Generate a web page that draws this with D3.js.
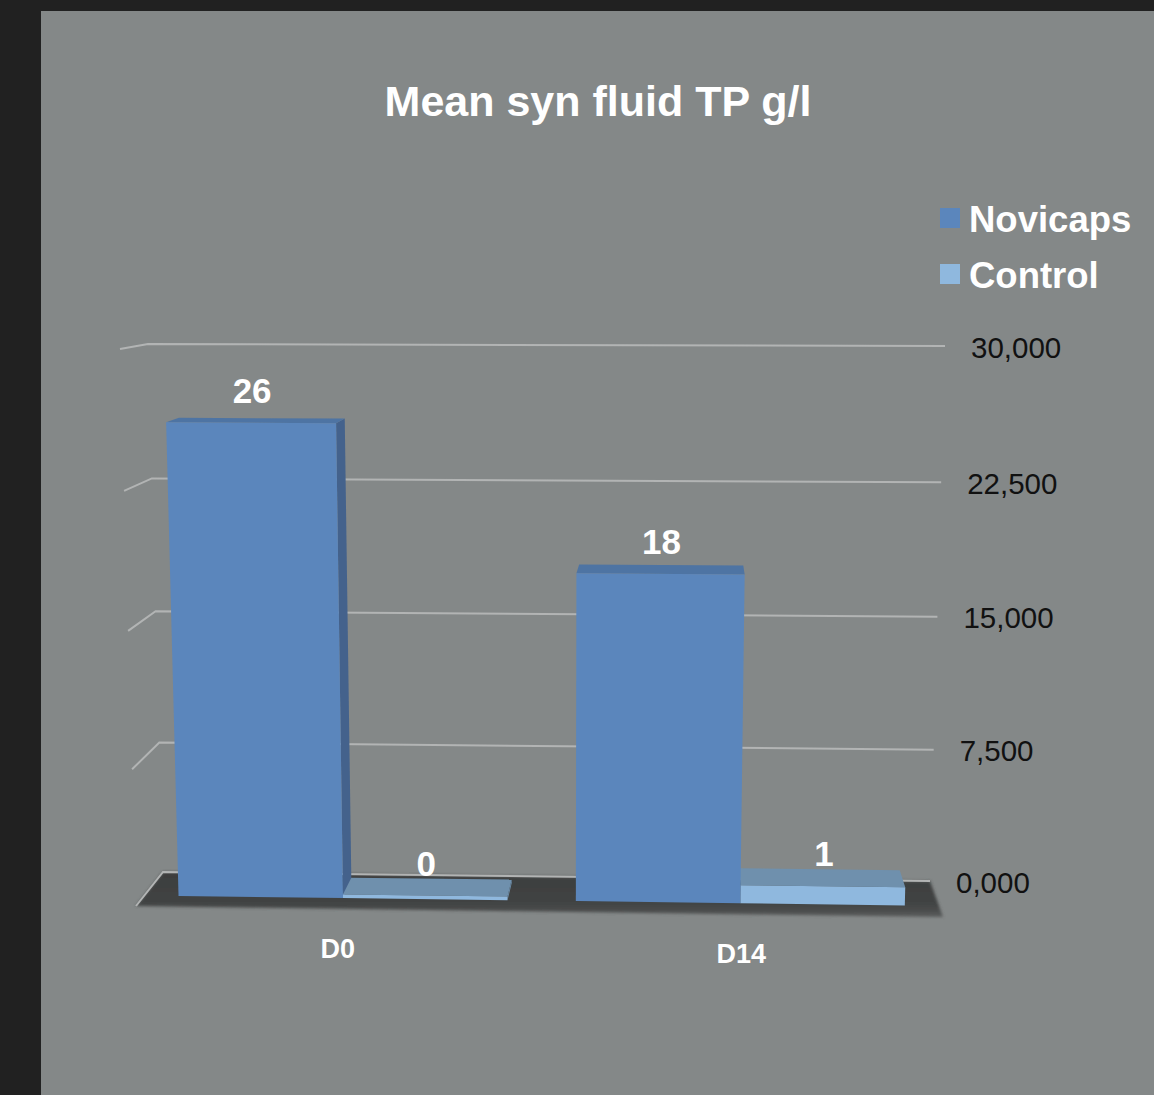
<!DOCTYPE html>
<html>
<head>
<meta charset="utf-8">
<script src="https://cdn.jsdelivr.net/npm/d3@7"></script>
<style>
  html, body { margin: 0; padding: 0; background: #212121; }
  svg { display: block; }
</style>
</head>
<body>
<script>
// ---- data ----
const categories = ["D0", "D14"];
const seriesNames = ["Novicaps", "Control"];
const novicapsValues = [26, 18];
const controlValues = [0.2, 1];
const tickValues = [0, 7.5, 15, 22.5, 30];
const chartTitle = "Mean syn fluid TP g/l";

// ---- styles ----
const W = 1154, H = 1095;
const FONT = "'Liberation Sans', Arial, Helvetica, sans-serif";
const colors = {
  Novicaps: { front: "#5b86bc", side: "#44628c", top: "#4e74a3" },
  Control:  { front: "#8fb8de", side: "#6d8eab", top: "#6f90ad" }
};

const svg = d3.select("body").append("svg")
  .attr("width", W).attr("height", H);

svg.append("rect").attr("width", W).attr("height", H).attr("fill", "#212121");
svg.append("rect").attr("x", 41).attr("y", 11)
  .attr("width", W - 41).attr("height", H - 11).attr("fill", "#848888");

const defs = svg.append("defs");
const floorGrad = defs.append("linearGradient").attr("id", "floorGrad")
  .attr("x1", 0).attr("y1", 0).attr("x2", 0).attr("y2", 1);
floorGrad.append("stop").attr("offset", "0%").attr("stop-color", "#3b3d3d");
floorGrad.append("stop").attr("offset", "75%").attr("stop-color", "#424444");
floorGrad.append("stop").attr("offset", "100%").attr("stop-color", "#5a5c5c");
defs.append("filter").attr("id", "soft")
  .attr("x", "-5%").attr("y", "-30%").attr("width", "110%").attr("height", "160%")
  .append("feGaussianBlur").attr("stdDeviation", 1.6);

// ---- scales (world units) ----
const x = d3.scaleBand().domain(categories).range([0, 1])
  .paddingInner(0.172).paddingOuter(0.086);
const xs = d3.scaleBand().domain(seriesNames).range([0, x.bandwidth()]);
const y = d3.scaleLinear().domain([0, 30]).range([0, 1]);

// Screen corners of the plot box: back wall and front edge, at the
// bottom (l0/r0) and top (l1/r1) of the value range.
const backPlane  = { l0: [163, 872], r0: [930, 881], l1: [148, 344], r1: [945, 346] };
const frontPlane = { l0: [136, 906], r0: [943, 917], l1: [120, 349], r1: [958, 353] };
// mild vertical foreshortening: the upper part of the box is nearer the eye
const FORE = 1.025;
const foreshorten = h => h / (h + FORE * (1 - h));

function planePoint(pl, u, h) {
  const hw = foreshorten(h);
  const lo = [pl.l0[0] + (pl.r0[0] - pl.l0[0]) * u, pl.l0[1] + (pl.r0[1] - pl.l0[1]) * u];
  const hi = [pl.l1[0] + (pl.r1[0] - pl.l1[0]) * u, pl.l1[1] + (pl.r1[1] - pl.l1[1]) * u];
  return [lo[0] + (hi[0] - lo[0]) * hw, lo[1] + (hi[1] - lo[1]) * hw];
}
// u: across the plot (0..1), v: data value, t: depth (0 = back wall, 1 = front edge)
function project(u, v, t) {
  const h = y(v);
  const b = planePoint(backPlane, u, h), f = planePoint(frontPlane, u, h);
  return [b[0] + (f[0] - b[0]) * t, b[1] + (f[1] - b[1]) * t];
}
const line = d3.line();
const poly = pts => line(pts) + "Z";

// ---- floor ----
svg.append("path")
  .attr("d", poly([project(0, 0, 0), project(1, 0, 0), project(1, 0, 1), project(0, 0, 1)]))
  .attr("fill", "url(#floorGrad)")
  .attr("filter", "url(#soft)");

// ---- gridlines (left wall + back wall) ----
const gridG = svg.append("g");
tickValues.forEach(v => {
  gridG.append("path")
    .attr("d", line([project(0, v, 1), project(0, v, 0), project(1, v, 0)]))
    .attr("fill", "none")
    .attr("stroke", "#b2b4b4")
    .attr("stroke-width", 2);
});

// ---- axis tick labels ----
const locale = d3.formatLocale({ decimal: ",", thousands: ".", grouping: [3], currency: ["", ""] });
const fmtTick = locale.format(".3f");
svg.append("g").selectAll("text").data(tickValues).join("text")
  .attr("x", d => project(1, d, 0)[0] + 26)
  .attr("y", d => project(1, d, 0)[1] + 1)
  .attr("dominant-baseline", "central")
  .attr("font-family", FONT).attr("font-size", 29.5)
  .attr("fill", "#111")
  .text(d => fmtTick(d));

// ---- bars ----
const bars = [];
categories.forEach((c, i) => {
  bars.push({ cat: c, series: "Novicaps", value: novicapsValues[i] });
  bars.push({ cat: c, series: "Control", value: controlValues[i] });
});
const T0 = 0.2, T1 = 0.69; // bar depth (back, front)
bars.forEach(b => {
  b.u0 = x(b.cat) + xs(b.series);
  b.u1 = b.u0 + xs.bandwidth();
  b.uc = (b.u0 + b.u1) / 2;
});
// paint bars farthest from the view centre first
const drawOrder = bars.slice().sort((a, b) => Math.abs(b.uc - 0.5) - Math.abs(a.uc - 0.5));

const barG = svg.append("g");
drawOrder.forEach(b => {
  const g = barG.append("g");
  const col = colors[b.series];
  const v = b.value;
  // a side face shows only when it turns towards the view centre
  if (project(b.u0, 0, T1)[0] > project(b.u0, 0, T0)[0]) {
    g.append("path").attr("d", poly([project(b.u0, 0, T0), project(b.u0, v, T0), project(b.u0, v, T1), project(b.u0, 0, T1)]))
      .attr("fill", col.side);
  }
  if (project(b.u1, 0, T1)[0] < project(b.u1, 0, T0)[0]) {
    g.append("path").attr("d", poly([project(b.u1, 0, T0), project(b.u1, v, T0), project(b.u1, v, T1), project(b.u1, 0, T1)]))
      .attr("fill", col.side);
  }
  g.append("path").attr("d", poly([project(b.u0, v, T0), project(b.u1, v, T0), project(b.u1, v, T1), project(b.u0, v, T1)]))
    .attr("fill", col.top);
  g.append("path").attr("d", poly([project(b.u0, 0, T1), project(b.u1, 0, T1), project(b.u1, v, T1), project(b.u0, v, T1)]))
    .attr("fill", col.front);
});

// ---- value labels ----
svg.append("g").selectAll("text").data(bars).join("text")
  .attr("x", d => project(d.uc, d.value, T1)[0] + 1)
  .attr("y", d => project(d.uc, d.value, T1)[1] - 20)
  .attr("text-anchor", "middle")
  .attr("font-family", FONT).attr("font-weight", "bold").attr("font-size", 35)
  .attr("fill", "#ffffff")
  .text(d => d3.format(".0f")(d.value));

// ---- category labels ----
svg.append("g").selectAll("text").data(categories).join("text")
  .attr("x", d => project(x(d) + x.bandwidth() / 2, 0, 1)[0])
  .attr("y", d => project(x(d) + x.bandwidth() / 2, 0, 1)[1] + 49)
  .attr("text-anchor", "middle")
  .attr("font-family", FONT).attr("font-weight", "bold").attr("font-size", 27)
  .attr("fill", "#ffffff")
  .text(d => d);

// ---- title ----
svg.append("text")
  .attr("x", 598).attr("y", 116)
  .attr("text-anchor", "middle")
  .attr("font-family", FONT).attr("font-weight", "bold").attr("font-size", 43)
  .attr("fill", "#ffffff")
  .text(chartTitle);

// ---- legend ----
const legend = svg.append("g").attr("transform", "translate(940,208)");
seriesNames.forEach((s, i) => {
  const row = legend.append("g").attr("transform", `translate(0,${i * 56})`);
  row.append("rect").attr("width", 20).attr("height", 20).attr("fill", colors[s].front);
  row.append("text").attr("x", 29).attr("y", 24)
    .attr("font-family", FONT).attr("font-weight", "bold").attr("font-size", 36.5)
    .attr("fill", "#ffffff")
    .text(s);
});
</script>
</body>
</html>
